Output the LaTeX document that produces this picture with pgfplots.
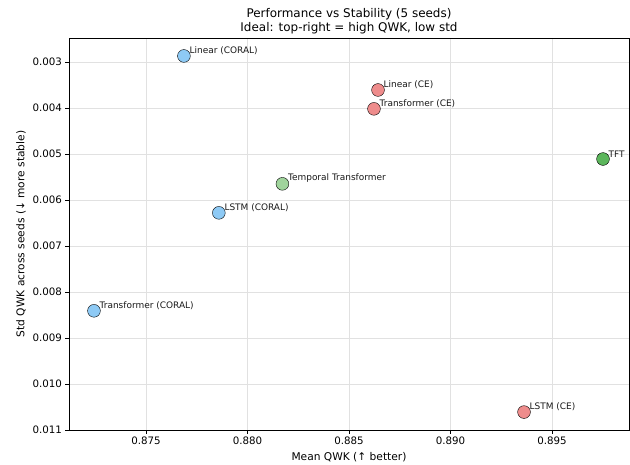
\documentclass[border=0pt]{standalone}
\usepackage{pgfplots}
\pgfplotsset{compat=1.18}
\usepackage{fontspec}
\setmainfont{DejaVu Sans}
\definecolor{coralblue}{RGB}{142,202,245}
\definecolor{cered}{RGB}{238,140,140}
\definecolor{lgreen}{RGB}{160,212,156}
\definecolor{dgreen}{RGB}{92,182,92}
\definecolor{edgec}{RGB}{40,40,40}
\definecolor{gridc}{RGB}{225,225,225}
\begin{document}
\begin{tikzpicture}
\useasboundingbox (-69bp,-35bp) rectangle (561bp,430bp);
\begin{axis}[
  at={(0,0)}, anchor=south west,
  scale only axis,
  width=560bp, height=392bp,
  xmin=0.87121, xmax=0.89879,
  ymin=0.00248, ymax=0.011,
  y dir=reverse,
  xtick={0.875,0.880,0.885,0.890,0.895},
  ytick={0.003,0.004,0.005,0.006,0.007,0.008,0.009,0.010,0.011},
  scaled ticks=false,
  xticklabel style={/pgf/number format/.cd,fixed,fixed zerofill,precision=3},
  yticklabel style={/pgf/number format/.cd,fixed,fixed zerofill,precision=3},
  /pgf/number format/assume math mode=true,
  ticklabel style={font=\fontsize{10.3}{12}\selectfont},
  tick align=outside, tick pos=left,
  major tick length=3.5bp,
  tick style={black, line width=0.7bp},
  axis line style={black, line width=0.8bp},
  grid=major,
  grid style={gridc, line width=0.6bp},
  xlabel={Mean QWK (↑ better)},
  ylabel={Std QWK across seeds (↓ more stable)},
  label style={font=\fontsize{10.7}{12}\selectfont},
  xlabel style={yshift=-1bp},
  ylabel style={yshift=0bp},
  title={Performance vs Stability (5 seeds)\\Ideal: top-right = high QWK, low std},
  title style={align=center, font=\fontsize{12}{14}\selectfont, yshift=-5bp},
  point meta=explicit symbolic,
  nodes near coords={\pgfplotspointmeta},
  nodes near coords style={anchor=south west, font=\fontsize{9}{9}\selectfont, xshift=4.5bp, yshift=0bp, inner sep=1bp, text=black!90},
  every axis plot/.append style={only marks, mark=*, mark size=6.4bp, mark options={draw=edgec, line width=0.9bp}},
]
\addplot[mark options={fill=coralblue}] table[col sep=comma, row sep=\\, meta=label] {
x,y,label\\
0.87687,0.00287,Linear (CORAL)\\
0.87859,0.00628,LSTM (CORAL)\\
0.87244,0.00841,Transformer (CORAL)\\
};
\addplot[mark options={fill=cered}] table[col sep=comma, row sep=\\, meta=label] {
x,y,label\\
0.88643,0.00361,Linear (CE)\\
0.88623,0.00402,Transformer (CE)\\
0.89362,0.01061,LSTM (CE)\\
};
\addplot[mark options={fill=lgreen}] table[col sep=comma, row sep=\\, meta=label] {
x,y,label\\
0.88172,0.00565,Temporal Transformer\\
};
\addplot[mark options={fill=dgreen}] table[col sep=comma, row sep=\\, meta=label] {
x,y,label\\
0.89751,0.00511,TFT\\
};
\end{axis}
\end{tikzpicture}
\end{document}
